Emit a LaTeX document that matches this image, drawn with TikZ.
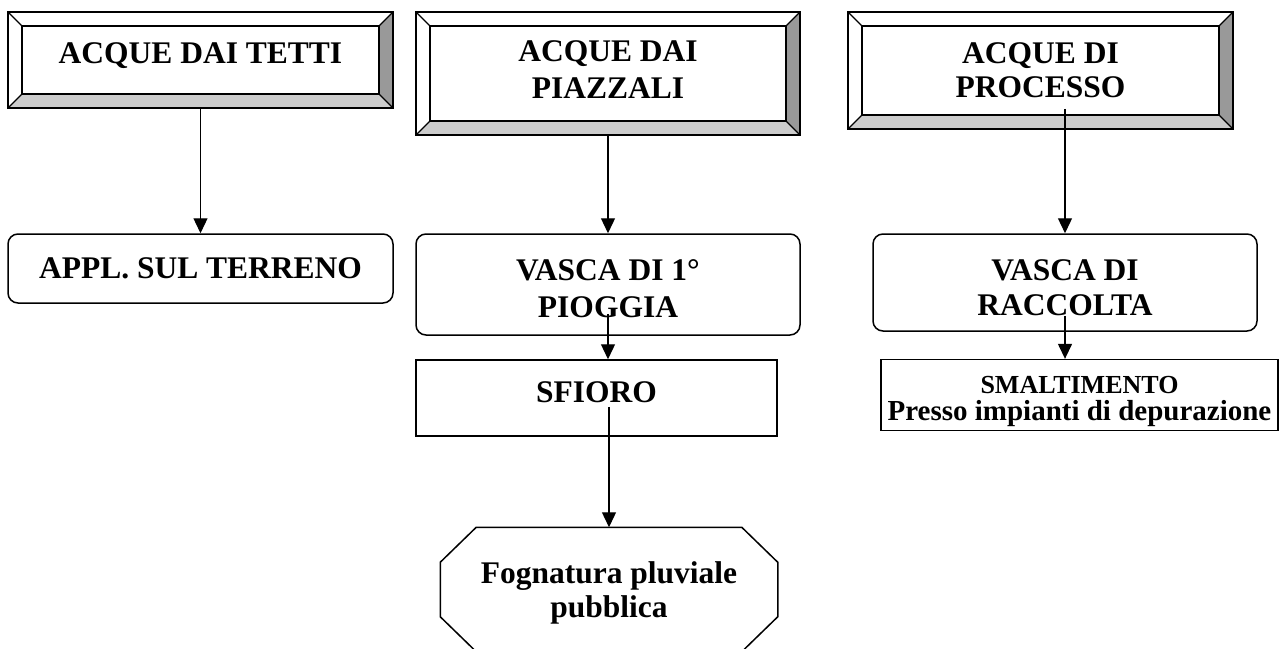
\documentclass[tikz,border=0pt]{standalone}
\usepackage{fontspec}
\setmainfont{Liberation Serif}
\usetikzlibrary{arrows.meta,calc}
\tikzset{>={Triangle[length=15pt,width=14pt]}}
\definecolor{bevdark}{gray}{0.6}
\definecolor{bevlight}{gray}{0.8}
\tikzstyle{box}=[rectangle,draw,line width=1.5pt,align=center,font=\fontsize{31.5}{37}\selectfont\bfseries]
\tikzstyle{bevel}=[box,path picture={
    \coordinate (bsw) at (path picture bounding box.south west);
    \coordinate (bse) at (path picture bounding box.south east);
    \coordinate (bne) at (path picture bounding box.north east);
    \coordinate (bnw) at (path picture bounding box.north west);
    \fill[bevdark] (bne) -- (bse) -- ([shift={(-14pt,14pt)}]bse) -- ([shift={(-14pt,-14pt)}]bne) -- cycle;
    \fill[bevlight] (bsw) -- (bse) -- ([shift={(-14pt,14pt)}]bse) -- ([shift={(14pt,14pt)}]bsw) -- cycle;
    \draw[line width=1.2pt] ([shift={(14pt,14pt)}]bsw) rectangle ([shift={(-14pt,-14pt)}]bne);
    \draw[line width=1.2pt] (bsw) -- ++(14pt,14pt) (bse) -- ++(-14pt,14pt)
        (bne) -- ++(-14pt,-14pt) (bnw) -- ++(14pt,-14pt);
}]
\tikzstyle{roundbox}=[box,rounded corners=10pt]
\tikzstyle{octabox}=[box,draw=none]
\tikzstyle{flow}=[->,line width=1.3pt]

\begin{document}
\begin{tikzpicture}[x=1pt,y=-1pt]
    \useasboundingbox (0,0) rectangle (1285,648);

    % sources
    \node[bevel,minimum width=385pt,minimum height=96pt,text depth=14pt] (tetti) at (200.5,60) {ACQUE DAI TETTI};
    \node[bevel,minimum width=384pt,minimum height=123pt] (piazzali) at (608,73.5) {ACQUE DAI\\PIAZZALI\rule[-7pt]{0pt}{0pt}};
    \node[bevel,minimum width=385pt,minimum height=117pt] (processo) at (1040.5,70.5) {ACQUE DI\\[-3pt]PROCESSO};

    % treatment
    \node[roundbox,minimum width=385pt,minimum height=69pt] (terreno) at (200.5,268.5) {APPL. SUL TERRENO};
    \node[roundbox,minimum width=384pt,minimum height=101pt] (vasca1) at (608,284.5) {\rule{0pt}{30pt}VASCA DI 1°\\PIOGGIA};
    \node[roundbox,minimum width=384pt,minimum height=97pt] (raccolta) at (1065,282.5) {\rule{0pt}{31pt}VASCA DI\\[-2pt]RACCOLTA};

    % outlets
    \node[box,minimum width=361pt,minimum height=76pt,text depth=12pt] (sfioro) at (596.5,398) {SFIORO};
    \node[octabox,minimum width=336pt,minimum height=123pt] (fognatura) at (609,589.5) {\rule{0pt}{29pt}Fognatura pluviale\\[-3pt]pubblica};
    \draw[line width=1.5pt] ($(fognatura.north west)+(36,0)$) -- ($(fognatura.north east)+(-36,0)$)
        -- ($(fognatura.north east)+(0,35)$) -- ($(fognatura.south east)+(0,-35)$)
        -- ($(fognatura.south east)+(-36,0)$) -- ($(fognatura.south west)+(36,0)$)
        -- ($(fognatura.south west)+(0,-35)$) -- ($(fognatura.north west)+(0,35)$) -- cycle;
    \node[box,minimum width=397pt,minimum height=70pt,font=\fontsize{26}{27}\selectfont\bfseries] (smalt) at (1079.5,395)
        {\rule{0pt}{31pt}SMALTIMENTO\\{\fontsize{29}{27}\selectfont Presso impianti di depurazione}};

    \draw[flow] (tetti) -- (terreno);
    \draw[flow] (piazzali) -- (vasca1);
    \draw[flow] ($(processo.south -| raccolta.north)+(0,-21)$) -- (raccolta.north);
    \draw[flow] ($(vasca1.south)+(0,-22)$) -- (vasca1.south |- sfioro.north);
    \draw[flow] ($(sfioro.south -| fognatura.north)+(0,-30)$) -- (fognatura.north);
    \draw[flow] ($(raccolta.south)+(0,-16)$) -- (raccolta.south |- smalt.north);
\end{tikzpicture}
\end{document}
